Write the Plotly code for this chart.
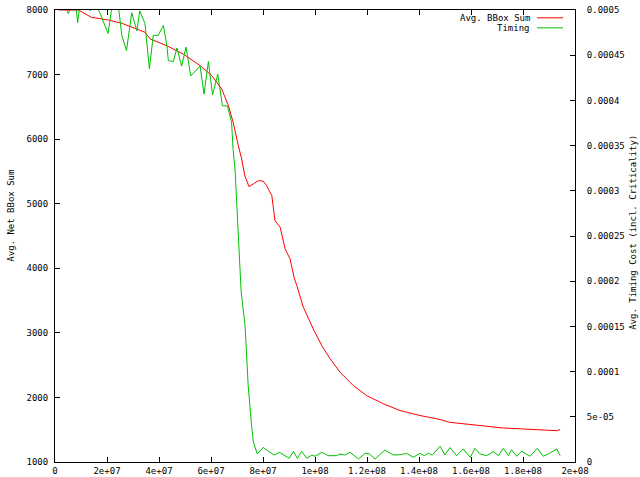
import plotly.graph_objects as go

# ---- data (x in millions) ----
bbox_x_m = [1.5, 9.0, 14.0, 16.7, 20.5, 25.7, 30.8, 34.6, 36.6, 43.0, 49.3, 55.8, 60.3, 64.1,
            66.7, 68.5, 70.5, 71.8, 73.0, 74.6, 76.3, 78.3, 80.1, 81.4, 83.4, 84.6, 86.6,
            88.5, 90.4, 92.1, 93.0, 95.5, 99.3, 102.6, 105.8, 109.6, 114.7, 119.8, 126.3,
            132.7, 140.4, 148.1, 151.9, 157.0, 159.7, 167.3, 172.4, 178.9, 187.8, 191.6,
            193.0, 194.3]
bbox_sum = [8000, 8000, 7887, 7871, 7845, 7794, 7721, 7655, 7551, 7447, 7319, 7138, 6983, 6777,
            6519, 6262, 5900, 5693, 5435, 5265, 5307, 5358, 5348, 5280, 5125, 4739, 4636,
            4300, 4146, 3836, 3733, 3398, 3062, 2803, 2598, 2392, 2185, 2030, 1901,
            1797, 1720, 1658, 1614, 1591, 1573, 1550, 1527, 1514, 1496, 1488,
            1485, 1503]

timing_x_m = [1.5, 4.2, 5.1, 6.2, 8.1, 8.7, 9.6, 12.5, 13.5, 15.5, 17.4, 20.4, 21.9, 24.3,
              25.7, 27.5, 29.5, 31.5, 32.6, 34.6, 36.3, 37.8, 39.7, 41.7, 43.0, 43.6, 45.5,
              46.9, 48.7, 50.4, 52.2, 55.8, 57.3, 59.0, 60.6, 62.6, 64.4, 66.3, 67.9, 68.5,
              69.3, 70.3, 71.0, 71.6, 73.1, 74.3, 75.6, 76.3, 77.8, 80.1, 82.1, 84.3, 86.3,
              88.1, 90.1, 91.7, 93.2, 94.9, 96.8, 98.8, 100.0, 102.6, 105.1, 108.4, 109.6,
              111.5, 113.5, 116.7, 119.3, 120.9, 123.1, 126.9, 130.1, 132.7, 135.2, 137.8,
              140.4, 142.0, 143.6, 145.1, 148.1, 150.0, 151.9, 154.5, 157.0, 159.7, 161.5,
              163.5, 166.0, 168.6, 170.5, 172.4, 174.4, 175.6, 177.6, 179.5, 182.7, 185.5,
              187.8, 190.2, 193.0, 194.3]
timing_cost = [0.000501, 0.000504, 0.000496, 0.000504, 0.000504, 0.000486, 0.000506, 0.000507,
               0.000499, 0.000507, 0.000496, 0.000474, 0.000504, 0.000506,
               0.000472, 0.000455, 0.000497, 0.000477, 0.000499, 0.000485, 0.000435, 0.000472,
               0.000472, 0.000483, 0.000461, 0.000444, 0.000443,
               0.000458, 0.000438, 0.000459, 0.000427, 0.000438, 0.000407, 0.000443, 0.000406,
               0.000429, 0.000394, 0.000394, 0.000376, 0.000346,
               0.000321, 0.000258, 0.000221, 0.000188, 0.000151, 0.0000846, 0.0000405,
               0.0000221, 0.0000089, 0.0000162, 0.0000118, 0.0000077, 0.0000107,
               0.0000080, 0.0000041, 0.0000118, 0.0000041, 0.0000118, 0.0000041, 0.0000077,
               0.0000063, 0.0000107, 0.0000070, 0.0000070, 0.0000089,
               0.0000077, 0.0000107, 0.0000033, 0.0000096, 0.0000090, 0.0000033, 0.0000133,
               0.0000077, 0.0000081, 0.0000096, 0.0000052,
               0.0000096, 0.0000070, 0.0000096, 0.0000077, 0.0000174, 0.0000077, 0.0000160,
               0.0000070, 0.0000144, 0.0000052, 0.0000151,
               0.0000089, 0.0000070, 0.0000114, 0.0000070, 0.0000151, 0.0000070, 0.0000136,
               0.0000063, 0.0000118, 0.0000063, 0.0000151,
               0.0000063, 0.0000096, 0.0000144, 0.0000070]

x_tickvals = [0, 2e7, 4e7, 6e7, 8e7, 1e8, 1.2e8, 1.4e8, 1.6e8, 1.8e8, 2e8]
x_ticktext = ["0", "2e+07", "4e+07", "6e+07", "8e+07", "1e+08", "1.2e+08", "1.4e+08",
              "1.6e+08", "1.8e+08", "2e+08"]
y_tickvals = [1000, 2000, 3000, 4000, 5000, 6000, 7000, 8000]
y2_tickvals = [0, 0.00005, 0.0001, 0.00015, 0.0002, 0.00025, 0.0003, 0.00035, 0.0004,
               0.00045, 0.0005]
y2_ticktext = ["0", "5e-05", "0.0001", "0.00015", "0.0002", "0.00025", "0.0003", "0.00035",
               "0.0004", "0.00045", "0.0005"]

series_names = ["Avg. BBox Sum", "Timing"]
series_colors = ["#ff0000", "#00c000"]

FONT = "DejaVu Sans Mono"

fig = go.Figure()
fig.add_trace(go.Scatter(x=[v * 1e6 for v in bbox_x_m], y=bbox_sum, mode="lines",
                         name=series_names[0], line=dict(color=series_colors[0], width=1),
                         yaxis="y"))
fig.add_trace(go.Scatter(x=[v * 1e6 for v in timing_x_m], y=timing_cost, mode="lines",
                         name=series_names[1], line=dict(color=series_colors[1], width=1),
                         yaxis="y2"))

axis_common = dict(showgrid=False, zeroline=False, showline=True, linecolor="#000000",
                   linewidth=1, ticks="inside", ticklen=5, tickcolor="#000000",
                   automargin=False,
                   tickfont=dict(family=FONT, size=9, color="#000000"))

fig.update_layout(
    template="none",
    width=640, height=477,
    paper_bgcolor="white", plot_bgcolor="white",
    margin=dict(l=55, r=65, t=10, b=15, pad=0),
    showlegend=False,
    font=dict(family=FONT, size=9, color="#000000"),
    xaxis=dict(range=[0, 2e8], tickvals=x_tickvals, ticktext=x_ticktext, mirror="ticks",
               ticklabelstandoff=0, **axis_common),
    yaxis=dict(range=[1000, 8000], tickvals=y_tickvals, ticklabelstandoff=4,
               **axis_common),
    yaxis2=dict(range=[0, 0.0005], tickvals=y2_tickvals, ticktext=y2_ticktext,
                overlaying="y", side="right", ticklabelstandoff=9, **axis_common),
)

annotations = [
    dict(text="Avg. Net BBox Sum", xref="paper", yref="paper", x=0, y=0.545, xshift=-44,
         xanchor="center", yanchor="middle", textangle=-90, showarrow=False,
         font=dict(family=FONT, size=9)),
    dict(text="Avg. Timing Cost (incl. Criticality)", xref="paper", yref="paper", x=1,
         y=0.507, xshift=58, xanchor="center", yanchor="middle", textangle=-90,
         showarrow=False, font=dict(family=FONT, size=9)),
]
legend_rows_y = [0.9827, 0.9605]
shapes = []
for name, color, ly in zip(series_names, series_colors, legend_rows_y):
    annotations.append(dict(text=name, xref="paper", yref="paper", x=0.917, y=ly,
                            xanchor="right", yanchor="middle", showarrow=False,
                            font=dict(family=FONT, size=9)))
    shapes.append(dict(type="line", xref="paper", yref="paper", x0=0.927, x1=0.977,
                       y0=ly, y1=ly, line=dict(color=color, width=1)))
fig.update_layout(annotations=annotations, shapes=shapes)

fig.write_html("out.html", config={"displayModeBar": False},
               post_script="document.body.style.margin='0';")
